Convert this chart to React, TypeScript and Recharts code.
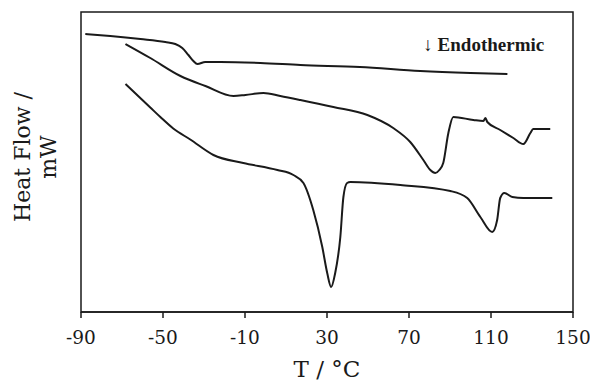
import React from "react";
import { LineChart, Line, XAxis, YAxis, ReferenceArea, ReferenceDot } from "recharts";

// DSC traces: T in °C, heat flow in mW (arbitrary offset)
const topT = [-87.9, -75.7, -61, -48.9, -44, -40.6, -37.6, -35.2, -33.2, -29.4, -22, -2.5, 17, 46, 75.5, 100, 118];
const topHF = [11.12, 11.04, 10.92, 10.8, 10.72, 10.56, 10.28, 10.04, 9.92, 10.0, 10.0, 9.96, 9.88, 9.8, 9.64, 9.56, 9.52];

const midT = [-68.3, -56.2, -41.5, -29.3, -15.6, -9.8, -1, 7.2, 17, 33.1, 49.7, 62.3, 70.6, 77, 80.4, 82.8, 84.8, 86.7, 89.2, 91.6, 101.4, 106.3, 107.3, 108.2, 114.5, 120.9, 125.8, 129.2, 130.6, 138.9];
const midHF = [10.72, 10.16, 9.44, 9.04, 8.64, 8.68, 8.76, 8.64, 8.48, 8.2, 7.88, 7.36, 6.8, 6.08, 5.68, 5.56, 5.68, 5.96, 7.16, 7.8, 7.68, 7.64, 7.76, 7.6, 7.28, 6.96, 6.72, 7.16, 7.32, 7.32];

const lowT = [-68.3, -56.2, -51.3, -45, -36.7, -25.4, -10.8, 5.8, 13.6, 18.5, 23.3, 27.7, 30.1, 32, 34, 36.5, 38, 39.8, 41.4, 65.8, 90.2, 98.4, 104.8, 110.6, 113, 114.5, 116.5, 120.4, 125.8, 139.9];
const lowHF = [9.12, 8.18, 7.8, 7.34, 6.9, 6.28, 5.96, 5.68, 5.48, 5.16, 4.08, 2.6, 1.56, 1.0, 1.56, 3.0, 4.6, 5.16, 5.2, 5.08, 4.84, 4.56, 3.8, 3.2, 3.68, 4.56, 4.76, 4.6, 4.56, 4.56];

const xTicks = [-90, -50, -10, 30, 70, 110, 150];

const toRows = (t: number[], hf: number[]) => t.map((x, i) => ({ t: x, hf: hf[i] }));

const font = "'DejaVu Serif', 'Liberation Serif', serif";
const ink = "#1a1a1a";

function YLabel(props: any) {
  const vb = props.viewBox || {};
  const cx = vb.x + 22;
  const cy = vb.y + vb.height / 2 - 5;
  return (
    <text
      x={cx}
      y={cy}
      transform={`rotate(-90, ${cx}, ${cy})`}
      textAnchor="middle"
      fontFamily={font}
      fontSize={22}
      fill={ink}
      dominantBaseline="central"
    >
      <tspan x={cx} dy={0}>Heat Flow /</tspan>
      <tspan x={cx} dy={26}>mW</tspan>
    </text>
  );
}

export default function App() {
  return (
    <div style={{ position: "absolute", left: 0, top: 0, background: "#fff" }}>
      <LineChart width={590} height={384} margin={{ top: 12, right: 17, left: 0, bottom: 0 }}>
        <XAxis
          dataKey="t"
          type="number"
          domain={[-90, 150]}
          ticks={xTicks}
          allowDataOverflow
          height={72}
          tickSize={6}
          tickMargin={13}
          stroke={ink}
          strokeWidth={1.5}
          tick={{ fontFamily: font, fontSize: 18.5, fill: ink }}
          label={{ value: "T / °C", position: "insideBottom", offset: 7, fontFamily: font, fontSize: 23, fill: ink }}
        />
        <YAxis
          type="number"
          domain={[0, 12]}
          allowDataOverflow
          width={81}
          tick={false}
          tickLine={false}
          axisLine={false}
          label={<YLabel />}
        />
        <ReferenceArea x1={-90} x2={150} y1={0} y2={12} fill="none" stroke={ink} strokeWidth={1.5} />
        <Line data={toRows(topT, topHF)} dataKey="hf" type="monotone" stroke={ink} strokeWidth={2} dot={false} isAnimationActive={false} />
        <Line data={toRows(midT, midHF)} dataKey="hf" type="monotone" stroke={ink} strokeWidth={2} dot={false} isAnimationActive={false} />
        <Line data={toRows(lowT, lowHF)} dataKey="hf" type="monotone" stroke={ink} strokeWidth={2} dot={false} isAnimationActive={false} />
        <ReferenceDot
          x={77}
          y={10.72}
          r={0}
          fill="none"
          stroke="none"
          label={{ value: "↓ Endothermic", position: "right", offset: 0, fontFamily: "'Liberation Serif', serif", fontSize: 19, fontWeight: 700, fill: ink }}
        />
      </LineChart>
    </div>
  );
}
